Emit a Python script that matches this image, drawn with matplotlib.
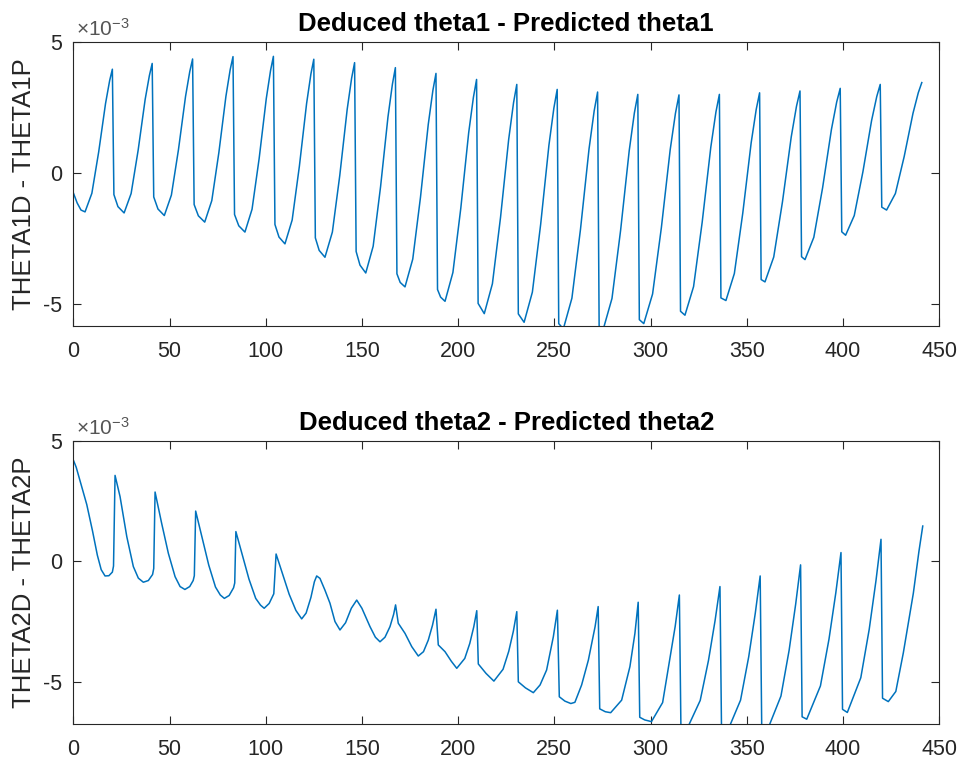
import matplotlib.pyplot as plt

plt.rcParams['font.family'] = ['Liberation Sans', 'DejaVu Sans']
plt.rcParams['axes.unicode_minus'] = False
plt.rcParams['mathtext.fontset'] = 'custom'
plt.rcParams['mathtext.rm'] = 'Liberation Sans'

# values in units of 1e-3 (one cycle per line)
x1 = [0, 2, 4, 6.1, 9.65, 13.2, 16.75, 18.9, 20.3,
      21.1, 23.2, 26.4, 30.05, 33.7, 37.35, 39.55, 41.0,
      41.8, 44.0, 47.3, 50.98, 54.65, 58.33, 60.53, 62.0,
      62.8, 65.0, 68.3, 71.98, 75.65, 79.33, 81.53, 83.0,
      83.8, 86.0, 89.2, 92.9, 96.6, 100.3, 102.52, 104.0,
      104.8, 106.9, 110.0, 113.75, 117.5, 121.25, 123.5, 125.0,
      125.8, 127.8, 130.8, 134.65, 138.5, 142.35, 144.66, 146.2,
      147.0, 149.0, 152.0, 155.85, 159.7, 163.55, 165.86, 167.4,
      168.2, 169.9, 172.4, 176.43, 180.45, 184.48, 186.89, 188.5,
      189.3, 190.9, 193.2, 197.3, 201.4, 205.5, 207.96, 209.6,
      210.4, 213.6, 217.83, 222.05, 226.28, 228.81, 230.5,
      231.3, 234.3, 238.6, 242.9, 247.2, 249.78, 251.5,
      252.3, 254.7, 259.15, 263.6, 268.05, 270.72, 272.5,
      273.3, 275.5, 279.98, 284.45, 288.93, 291.61, 293.4,
      294.2, 296.5, 301.08, 305.65, 310.23, 312.97, 314.8,
      315.6, 317.9, 322.38, 326.85, 331.33, 334.01, 335.8,
      336.6, 339.2, 343.58, 347.95, 352.33, 354.95, 356.7,
      357.5, 359.5, 364.05, 368.6, 373.15, 375.88, 377.7,
      378.5, 380.3, 384.88, 389.45, 394.03, 396.77, 398.6,
      399.4, 401.4, 405.9, 410.4, 414.9, 417.6, 419.4,
      420.2, 422.7, 427.28, 431.85, 436.43, 439.17, 441.0]
y1 = [-0.76, -1.15, -1.42, -1.49, -0.78, 0.80, 2.64, 3.52, 3.95,
      -0.83, -1.29, -1.53, -0.79, 0.86, 2.80, 3.71, 4.17,
      -0.92, -1.38, -1.63, -0.85, 0.88, 2.91, 3.86, 4.34,
      -1.21, -1.64, -1.88, -1.06, 0.77, 2.92, 3.93, 4.43,
      -1.59, -2.02, -2.26, -1.39, 0.55, 2.83, 3.90, 4.44,
      -1.97, -2.45, -2.71, -1.80, 0.25, 2.64, 3.77, 4.33,
      -2.48, -2.96, -3.22, -2.26, -0.10, 2.42, 3.61, 4.20,
      -3.00, -3.52, -3.82, -2.80, -0.53, 2.13, 3.38, 4.01,
      -3.85, -4.18, -4.35, -3.29, -0.93, 1.84, 3.14, 3.79,
      -4.45, -4.74, -4.90, -3.80, -1.35, 1.53, 2.88, 3.56,
      -4.98, -5.37, -4.23, -1.70, 1.27, 2.67, 3.37,
      -5.38, -5.70, -4.55, -1.97, 1.05, 2.47, 3.18,
      -5.75, -5.95, -4.78, -2.16, 0.91, 2.36, 3.08,
      -5.85, -5.95, -4.79, -2.20, 0.84, 2.28, 2.99,
      -5.60, -5.75, -4.62, -2.09, 0.88, 2.27, 2.97,
      -5.28, -5.43, -4.34, -1.89, 0.97, 2.32, 2.99,
      -4.77, -4.87, -3.84, -1.54, 1.15, 2.42, 3.05,
      -4.07, -4.16, -3.21, -1.10, 1.37, 2.54, 3.12,
      -3.20, -3.31, -2.46, -0.57, 1.65, 2.70, 3.22,
      -2.25, -2.38, -1.63, 0.04, 1.99, 2.91, 3.37,
      -1.31, -1.42, -0.79, 0.62, 2.27, 3.05, 3.44]

x2 = [0, 1.5, 4, 7, 10, 12.5, 14.5, 16.5, 18.5, 20.3, 20.9, 21.7,
      24.3, 27.8, 31.2, 33.8, 36.4, 39.0, 41.2, 41.8, 42.5,
      45.9, 49.4, 52.9, 55.5, 58.0, 60.5, 62.3, 62.9, 63.6,
      66.9, 70.4, 73.9, 76.4, 78.5, 81.0, 83.3, 83.9, 84.5,
      87.8, 91.3, 94.8, 97.3, 99.2, 101.8, 104.2, 105.4,
      108.7, 112.2, 115.7, 118.7, 121.0, 123.5, 125.3, 126.5,
      128.2, 130.8, 133.4, 136.0, 138.6, 141.5, 144.5, 147.3,
      150.0, 154.2, 157.0, 159.4, 162.0, 164.6, 166.5, 167.5,
      168.9, 172.4, 175.9, 179.3, 182.0, 184.5, 186.7, 188.5,
      189.7, 193.2, 196.5, 199.3, 203.46, 206.06, 208.14, 209.7,
      210.5, 214.5, 218.6, 223.36, 226.34, 228.72, 230.5,
      231.3, 235.0, 239.1, 242.6, 246.0, 249.5, 251.6,
      252.6, 255.5, 258.6, 260.7, 264.2, 267.7, 271.2, 272.8,
      273.6, 276.5, 279.3, 285.0, 289.3, 291.9, 293.6,
      294.4, 297.0, 300.5, 306.3, 309.93, 312.83, 315.0,
      315.8, 319.0, 325.84, 330.12, 333.54, 336.1,
      336.9, 340.0, 346.8, 351.05, 354.45, 357.0,
      357.8, 361.0, 367.8, 372.05, 375.45, 378.0,
      378.8, 381.2, 388.32, 392.77, 396.33, 399.0,
      399.8, 402.3, 409.3, 413.68, 417.18, 419.8,
      420.6, 423.6, 427.5, 431.4, 436.6, 439.5, 441.5]
y2 = [4.20, 3.90, 3.20, 2.35, 1.25, 0.25, -0.35, -0.61, -0.60, -0.45, -0.20, 3.56,
      2.68, 1.02, -0.22, -0.70, -0.87, -0.80, -0.55, -0.30, 2.87,
      1.58, 0.33, -0.64, -1.05, -1.17, -1.05, -0.80, -0.60, 2.08,
      0.99, -0.16, -1.07, -1.40, -1.54, -1.42, -1.10, -0.90, 1.23,
      0.28, -0.74, -1.54, -1.82, -1.95, -1.75, -1.35, 0.30,
      -0.51, -1.37, -2.04, -2.39, -2.15, -1.50, -0.85, -0.61,
      -0.71, -1.20, -1.74, -2.50, -2.85, -2.55, -1.95, -1.61,
      -1.95, -2.71, -3.15, -3.34, -3.15, -2.71, -2.20, -1.81,
      -2.57, -2.99, -3.54, -3.93, -3.75, -3.27, -2.65, -1.99,
      -3.47, -3.75, -4.15, -4.44, -4.03, -3.41, -2.72, -2.05,
      -4.26, -4.65, -4.97, -4.48, -3.73, -2.90, -2.09,
      -5.00, -5.25, -5.45, -5.13, -4.51, -3.13, -2.03,
      -5.62, -5.80, -5.90, -5.85, -5.13, -4.10, -2.71, -1.88,
      -6.12, -6.24, -6.28, -5.76, -4.37, -2.99, -1.70,
      -6.47, -6.58, -6.65, -5.86, -4.10, -2.70, -1.40,
      -6.85, -6.95, -5.77, -4.12, -2.47, -1.05,
      -6.90, -7.05, -5.76, -3.96, -2.16, -0.61,
      -6.85, -6.95, -5.59, -3.69, -1.78, -0.15,
      -6.45, -6.55, -5.17, -3.23, -1.30, 0.36,
      -6.14, -6.27, -4.83, -2.82, -0.81, 0.91,
      -5.68, -5.82, -5.40, -3.80, -1.33, 0.40, 1.46]

titles = ['Deduced theta1 - Predicted theta1', 'Deduced theta2 - Predicted theta2']
ylabels = ['THETA1D - THETA1P', 'THETA2D - THETA2P']
ylims = [(-5.83, 5), (-6.75, 5)]

line_color = '#0072BD'
text_color = '#262626'

fig = plt.figure(figsize=(9.62, 7.66), dpi=100)
ax1 = fig.add_axes([0.0762, 0.5748, 0.9, 0.3708])
ax2 = fig.add_axes([0.0762, 0.0548, 0.9, 0.3699])

for ax, xs, ys, title, ylab, yl in zip([ax1, ax2], [x1, x2], [y1, y2], titles, ylabels, ylims):
    ax.plot(xs, ys, color=line_color, lw=1.1)
    ax.set_xlim(0, 450)
    ax.set_ylim(*yl)
    ax.set_xticks(range(0, 451, 50))
    ax.set_yticks([-5, 0, 5])
    ax.tick_params(direction='in', top=True, right=True, length=6, width=0.8,
                   colors=text_color, labelsize=15.5)
    ax.tick_params(axis='x', pad=11)
    ax.tick_params(axis='y', pad=8)
    for s in ax.spines.values():
        s.set_color(text_color)
        s.set_linewidth(0.8)
    ax.set_title(title, fontsize=18.5, fontweight='bold', color='black', pad=8)
    ax.set_ylabel(ylab, fontsize=18.5, color=text_color, labelpad=5)
    ax.text(0.003, 1.006, r'$\times\mathregular{10^{-3}}$', transform=ax.transAxes,
            ha='left', va='bottom', fontsize=15, color='#555555')

plt.savefig('out.png', dpi=100)
